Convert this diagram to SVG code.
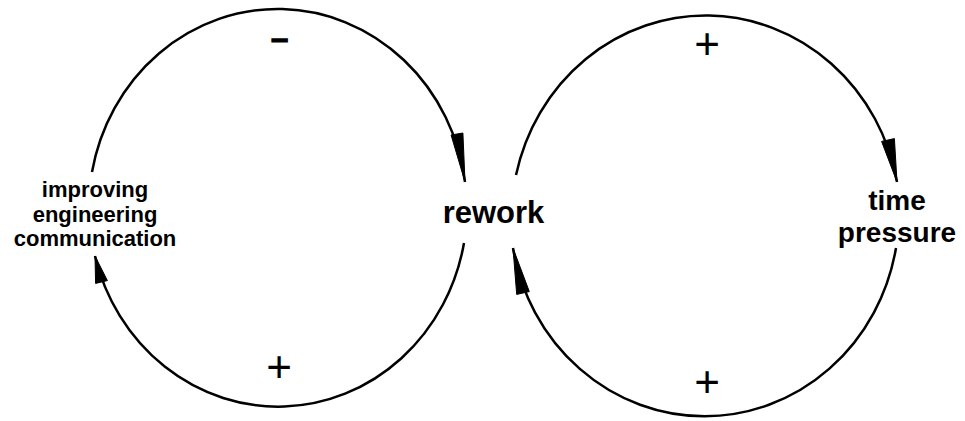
<svg xmlns="http://www.w3.org/2000/svg" width="965" height="421" viewBox="0 0 965 421">
<style>
.node{font-family:"Liberation Sans",Arial,sans-serif;font-weight:bold;fill:#000;text-anchor:middle}
.arc{fill:none;stroke:#000;stroke-width:2.5}
.head{fill:#000;stroke:#000;stroke-width:1;stroke-linejoin:miter}
.pol{font-family:"Liberation Sans",Arial,sans-serif;fill:#000;text-anchor:middle}
</style>
<rect width="965" height="421" fill="#fff"/>
<g id="connectors">
<path class="arc" d="M 92 172 A 189 200 0 0 1 465 182"/>
<polygon class="head" points="465,182 451.1,135 462.9,133"/>
<path class="arc" d="M 464 243 A 189 200 0 0 1 95 256"/>
<polygon class="head" points="95,256 95.6,283.4 107.4,280.6"/>
<path class="arc" d="M 516 175 A 194.5 204 0 0 1 897 182"/>
<polygon class="head" points="897,182 881.6,141.4 894.4,138.6"/>
<path class="arc" d="M 896 248 A 194.5 204 0 0 1 513 248"/>
<polygon class="head" points="513,248 516.7,294.4 529.3,291.6"/>
</g>
<g id="polarities">
<text class="pol" x="279.5" y="49" font-size="31" font-weight="bold" stroke="#000" stroke-width="1.2">–</text>
<text class="pol" x="279" y="382" font-size="44">+</text>
<text class="pol" x="707" y="59" font-size="44">+</text>
<text class="pol" x="707" y="397" font-size="44">+</text>
</g>
<g id="node-communication">
<text class="node" font-size="22"><tspan x="95" y="197">improving</tspan><tspan x="95" y="222">engineering</tspan><tspan x="95" y="246">communication</tspan></text>
</g>
<g id="node-rework">
<text class="node" x="493.5" y="223" font-size="31">rework</text>
</g>
<g id="node-time-pressure">
<text class="node" font-size="28"><tspan x="897" y="210">time</tspan><tspan x="897" y="242">pressure</tspan></text>
</g>
</svg>
